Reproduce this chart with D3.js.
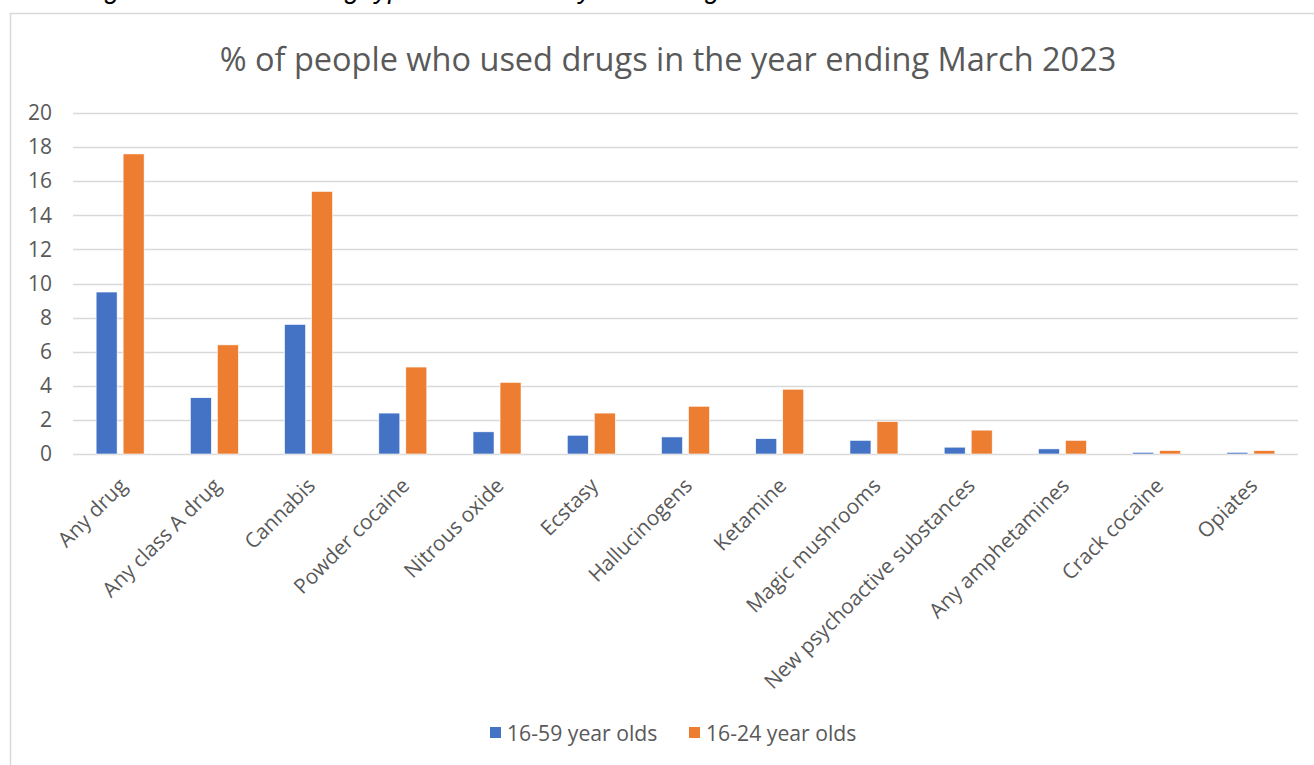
<!DOCTYPE html>
<html>
<head>
<meta charset="utf-8">
<script src="https://cdn.jsdelivr.net/npm/d3@7"></script>
<style>
  html, body { margin: 0; padding: 0; background: #fff; }
  svg { display: block; }
  text { font-family: "Open Sans", "Noto Sans", sans-serif; }
</style>
</head>
<body>
<svg id="chart" width="1314" height="765"></svg>
<script>
const categories = ["Any drug", "Any class A drug", "Cannabis", "Powder cocaine", "Nitrous oxide",
  "Ecstasy", "Hallucinogens", "Ketamine", "Magic mushrooms", "New psychoactive substances",
  "Any amphetamines", "Crack cocaine", "Opiates"];
const series = ["16-59 year olds", "16-24 year olds"];
const values1659 = [9.5, 3.3, 7.6, 2.4, 1.3, 1.1, 1.0, 0.9, 0.8, 0.4, 0.3, 0.1, 0.1];
const values1624 = [17.6, 6.4, 15.4, 5.1, 4.2, 2.4, 2.8, 3.8, 1.9, 1.4, 0.8, 0.2, 0.2];
const yTicks = [0, 2, 4, 6, 8, 10, 12, 14, 16, 18, 20];
const title = "% of people who used drugs in the year ending March 2023";
const caption = "Figure 1: Different drug types used in the year ending March 2023";
const colors = ["#4472C4", "#ED7D31"];

const svg = d3.select("#chart");
const textColor = "#595959";

// caption (cut off at the top of the picture, only descenders visible)
svg.append("text")
  .attr("x", 82).attr("y", -2)
  .attr("font-size", 27).attr("font-style", "italic")
  .attr("fill", "#000")
  .style("font-family", "'Liberation Sans', sans-serif")
  .text(caption);

// chart frame
svg.append("rect")
  .attr("x", 10.5).attr("y", 13.5)
  .attr("width", 1320).attr("height", 800)
  .attr("fill", "#fff").attr("stroke", "#d9d9d9").attr("stroke-width", 1.5);

// title
const t = svg.append("text")
  .attr("x", 668).attr("y", 71)
  .attr("text-anchor", "middle")
  .attr("font-size", 30).attr("fill", textColor)
  .text(title);
const tw = t.node().getComputedTextLength();
t.attr("font-size", 30 * 897 / tw);

const x0 = d3.scaleBand().domain(categories).range([73, 1298]).paddingInner(0).paddingOuter(0);
const y = d3.scaleLinear().domain([0, 20]).range([454, 113]);

// gridlines
svg.append("g").selectAll("line").data(yTicks).join("line")
  .attr("x1", 73).attr("x2", 1298)
  .attr("y1", d => Math.round(y(d)) + 0.5).attr("y2", d => Math.round(y(d)) + 0.5)
  .attr("stroke", "#d9d9d9").attr("stroke-width", 1.3);

// y axis labels
const yAxis = d3.axisLeft(y).tickValues(yTicks).tickSize(0).tickPadding(0);
const gy = svg.append("g").attr("transform", "translate(52,0)").call(yAxis);
gy.select(".domain").remove();
gy.selectAll("text").attr("font-size", 21).attr("fill", textColor)
  .style("font-family", "'Open Sans', sans-serif");

// bars
const barW = 21, gap = 6;
const data = categories.map((c, i) => ({ c, v: [values1659[i], values1624[i]] }));
const groups = svg.append("g").selectAll("g").data(data).join("g")
  .attr("transform", d => `translate(${x0(d.c) + x0.bandwidth() / 2},0)`);
groups.selectAll("rect").data(d => d.v.map((v, k) => ({ v, k }))).join("rect")
  .attr("x", d => d.k === 0 ? -gap / 2 - barW : gap / 2)
  .attr("width", barW)
  .attr("y", d => y(d.v))
  .attr("height", d => y(0) - y(d.v))
  .attr("fill", d => colors[d.k])
  .attr("stroke", "#fff").attr("stroke-width", 0.6);

// x axis labels
const xAxis = d3.axisBottom(x0).tickSize(0).tickPadding(0);
const gx = svg.append("g").attr("transform", "translate(0,454)").call(xAxis);
gx.select(".domain").remove();
gx.selectAll("text")
  .attr("font-size", 20.8).attr("fill", textColor)
  .style("font-family", "'Open Sans', sans-serif")
  .attr("text-anchor", "end")
  .attr("dy", 0)
  .attr("transform", "translate(8,33) rotate(-45)")
  .attr("y", 0).attr("x", 0);

// legend
const legendX = [490, 689];
const lg = svg.append("g").selectAll("g").data(series).join("g")
  .attr("transform", (d, i) => `translate(${legendX[i]},727)`);
lg.append("rect").attr("width", 11).attr("height", 11).attr("fill", (d, i) => colors[i]);
lg.append("text").attr("x", 17).attr("y", 14).attr("font-size", 21.2)
  .attr("fill", textColor).text(d => d);
</script>
</body>
</html>
